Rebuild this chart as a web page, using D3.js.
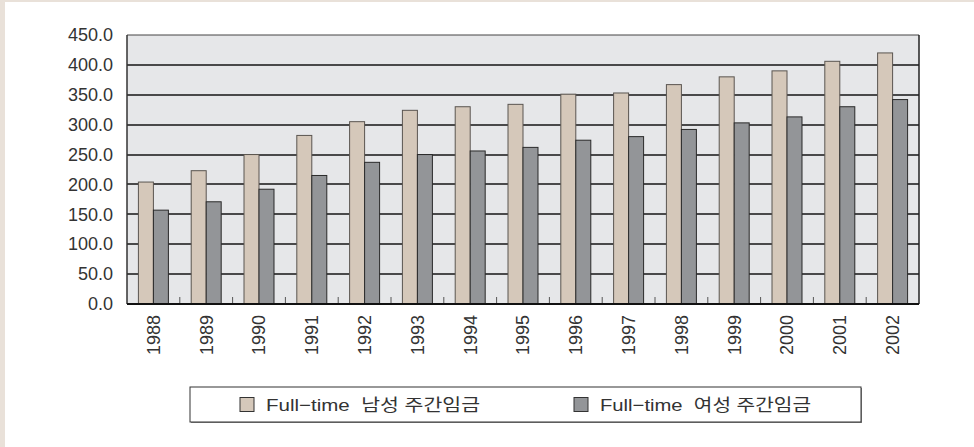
<html>
<head>
<meta charset="utf-8">
<script src="https://d3js.org/d3.v7.min.js"></script>
<style>
body { margin:0; background:#e9e1d9; }
text { font-family:"Liberation Sans", Arial, sans-serif; fill:#333; }
.kr { font-family:"Liberation Sans", "Noto Sans CJK KR", sans-serif; }
</style>
</head>
<body>
<svg width="974" height="447"></svg>
<script>
// 연도별 주간임금
var years = ["1988","1989","1990","1991","1992","1993","1994","1995","1996","1997","1998","1999","2000","2001","2002"];
var maleWage   = [204, 223, 250, 282, 305, 324, 330, 334, 351, 353, 367, 380, 390, 406, 420];
var femaleWage = [157, 171, 192, 215, 237, 250, 256, 262, 274, 280, 292, 303, 313, 330, 342];
var seriesNames = ["Full\u2212time  남성 주간임금", "Full\u2212time  여성 주간임금"];
var seriesColors = ["#d5c8ba", "#939598"];
var yTicks = [0, 50, 100, 150, 200, 250, 300, 350, 400, 450];

var svg = d3.select("svg");
svg.append("rect").attr("x",5).attr("y",2).attr("width",969).attr("height",445).attr("fill","#fff");

var pl = 127, pr = 919, pt = 35, pb = 304;

var x = d3.scaleBand().domain(years).range([pl, pr]).paddingInner(0.432).paddingOuter(0.216);
var xs = d3.scaleBand().domain([0,1]).range([0, x.bandwidth()]);
var y = d3.scaleLinear().domain([0,450]).range([pb, pt]);

// plot background
svg.append("rect").attr("x",pl).attr("y",pt).attr("width",pr-pl).attr("height",pb-pt)
  .attr("fill","#e6e7e9");

// gridlines
svg.append("g").selectAll("line").data(yTicks.slice(1,-1)).enter().append("line")
  .attr("x1",pl).attr("x2",pr)
  .attr("y1",function(d){ return Math.round(y(d)); }).attr("y2",function(d){ return Math.round(y(d)); })
  .attr("stroke","#151515").attr("stroke-width",1.7);

// category tick marks
var step = x.step();
svg.append("g").selectAll("line").data(years.slice(1)).enter().append("line")
  .attr("x1",function(d,i){ return pl + step*(i+1); })
  .attr("x2",function(d,i){ return pl + step*(i+1); })
  .attr("y1",pb-7).attr("y2",pb)
  .attr("stroke","#555").attr("stroke-width",1);

// bars
var data = years.map(function(yr,i){ return {year:yr, vals:[maleWage[i], femaleWage[i]]}; });
var groups = svg.append("g").selectAll("g").data(data).enter().append("g")
  .attr("transform",function(d){ return "translate(" + x(d.year) + ",0)"; });
groups.selectAll("rect").data(function(d){ return d.vals; }).enter().append("rect")
  .attr("x",function(d,i){ return xs(i); })
  .attr("width",xs.bandwidth())
  .attr("y",function(d){ return y(d); })
  .attr("height",function(d){ return pb - y(d); })
  .attr("fill",function(d,i){ return seriesColors[i]; })
  .attr("stroke",function(d,i){ return i==0 ? "#5a5550" : "#2a2a2a"; })
  .attr("stroke-width",1);

// frame
svg.append("line").attr("x1",pl).attr("x2",pr).attr("y1",pt).attr("y2",pt).attr("stroke","#444").attr("stroke-width",1);
svg.append("line").attr("x1",pr).attr("x2",pr).attr("y1",pt).attr("y2",pb).attr("stroke","#222").attr("stroke-width",1.5);
svg.append("line").attr("x1",pl).attr("x2",pl).attr("y1",pt).attr("y2",pb).attr("stroke","#333").attr("stroke-width",1.5);
svg.append("line").attr("x1",pl).attr("x2",pr).attr("y1",pb).attr("y2",pb).attr("stroke","#111").attr("stroke-width",1.8);

// y axis labels
var yAxis = d3.axisLeft(y).tickValues(yTicks).tickSize(0).tickPadding(14).tickFormat(d3.format(".1f"));
var ya = svg.append("g").attr("transform","translate(" + pl + ",0)").call(yAxis);
ya.select(".domain").remove();
ya.selectAll("text").style("font-size","18px").attr("fill","#333")
  .style("font-family","'Liberation Sans', Arial, sans-serif");

// x axis labels (rotated)
var xAxis = d3.axisBottom(x).tickSize(0).tickPadding(0);
var xa = svg.append("g").attr("transform","translate(0," + pb + ")").call(xAxis);
xa.select(".domain").remove();
xa.selectAll("text")
  .attr("transform","rotate(-90)")
  .attr("x",-11).attr("y",0).attr("dy","0.35em")
  .style("text-anchor","end")
  .style("font-size","18px").attr("fill","#333")
  .style("font-family","'Liberation Sans', Arial, sans-serif");

// legend
var lg = svg.append("g");
lg.append("rect").attr("x",191).attr("y",388).attr("width",671).attr("height",35).attr("fill","#888");
lg.append("rect").attr("x",190).attr("y",387).attr("width",671).attr("height",35)
  .attr("fill","#fff").attr("stroke","#333").attr("stroke-width",1);
var legX = [240, 574];
var legW = [214, 211];
seriesNames.forEach(function(name,i){
  lg.append("rect").attr("x",legX[i]).attr("y",397.5).attr("width",14).attr("height",14)
    .attr("fill",seriesColors[i]).attr("stroke","#333").attr("stroke-width",1);
  lg.append("text").attr("class","kr").attr("x",legX[i]+26).attr("y",405).attr("dy","0.35em")
    .style("font-size","17px").style("white-space","pre").attr("xml:space","preserve")
    .attr("textLength",legW[i]).attr("lengthAdjust","spacingAndGlyphs")
    .text(name);
});
</script>
</body>
</html>
